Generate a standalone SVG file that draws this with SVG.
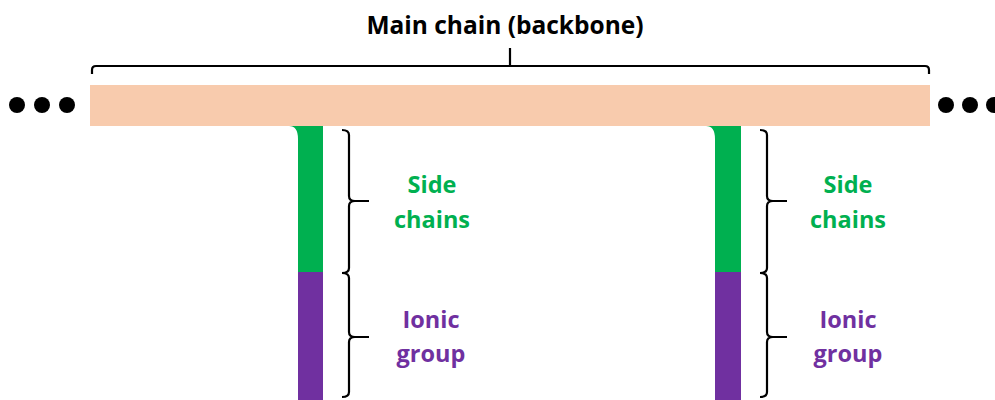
<svg xmlns="http://www.w3.org/2000/svg" width="995" height="400" viewBox="0 0 995 400">
<style>
.br{fill:none;stroke:#000;stroke-width:2.2}
.t{font-family:"Open Sans","Noto Sans","Liberation Sans",sans-serif;font-weight:bold;text-anchor:middle}
.g{fill:#00B050;font-size:23.5px}
.p{fill:#7030A0;font-size:23.5px}
.dot{fill:#000}
</style>
<rect width="995" height="400" fill="#fff"/>
<g id="backbone">
<rect x="90" y="85" width="840" height="41" fill="#F8CBAD"/>
</g>
<g id="dots-left">
<circle class="dot" cx="17" cy="105" r="8"/><circle class="dot" cx="42" cy="105" r="8"/><circle class="dot" cx="67" cy="105" r="8"/>
</g>
<g id="dots-right">
<circle class="dot" cx="946" cy="105" r="8"/><circle class="dot" cx="970" cy="105" r="8"/><circle class="dot" cx="994" cy="105" r="8"/>
</g>
<g id="title">
<path class="br" d="M92,74 V70 Q92,66 96,66 H925 Q929,66 929,70 V74 M510,66 V48"/>
<text class="t" x="505" y="34" font-size="24.5" fill="#000">Main chain (backbone)</text>
</g>
<g id="side-chain-1">
<path d="M289,126 H323 V272 H298 V139 Q298,126 289,126 Z" fill="#00B050"/>
<rect x="298" y="272" width="25" height="128" fill="#7030A0"/>
</g>
<g id="side-chain-2">
<path d="M706,126 H741 V272 H715 V139 Q715,126 706,126 Z" fill="#00B050"/>
<rect x="715" y="272" width="26" height="128" fill="#7030A0"/>
</g>
<g id="connectors">
<path class="br" d="M342,130 Q349,130 349,135 V196 Q349,201 355,201 H369 M355,201 Q349,201 349,206 V268 Q349,273 342,273 Q349,273 349,278 V332 Q349,337 355,337 H369 M355,337 Q349,337 349,342 V392 Q349,397 342,397"/>
<path class="br" d="M760,130 Q767,130 767,135 V196 Q767,201 773,201 H787 M773,201 Q767,201 767,206 V268 Q767,273 760,273 Q767,273 767,278 V332 Q767,337 773,337 H787 M773,337 Q767,337 767,342 V392 Q767,397 760,397"/>
</g>
<g id="label-side-1"><text class="t g" x="432" y="193">Side</text><text class="t g" x="432" y="228">chains</text></g>
<g id="label-ionic-1"><text class="t p" x="431" y="328">Ionic</text><text class="t p" x="431" y="362">group</text></g>
<g id="label-side-2"><text class="t g" x="848" y="193">Side</text><text class="t g" x="848" y="228">chains</text></g>
<g id="label-ionic-2"><text class="t p" x="848" y="328">Ionic</text><text class="t p" x="848" y="362">group</text></g>
</svg>
